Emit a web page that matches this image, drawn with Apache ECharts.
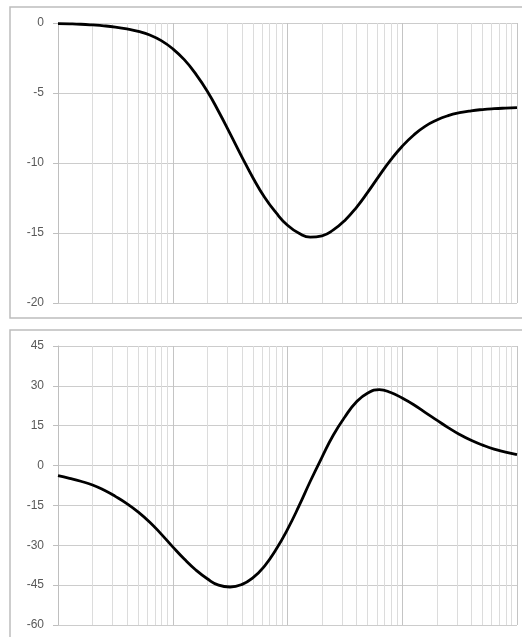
<!DOCTYPE html>
<html>
<head>
<meta charset="utf-8">
<script src="https://cdn.jsdelivr.net/npm/echarts@6/dist/echarts.min.js"></script>
<style>
html,body{margin:0;padding:0;background:#fff;}
#chart{width:522px;height:637px;}
</style>
</head>
<body>
<div id="chart"></div>
<script>
// Frequency grid (log axis, 4 decades)
var xMin = 1, xMax = 10000;
var decades = [1, 10, 100, 1000];
var minorMultipliers = [2, 3, 4, 5, 6, 7, 8, 9];

// Sample frequencies (tenth-decade steps)
var freq = [1, 1.26, 1.58, 2, 2.51, 3.16, 3.98, 5.01, 6.31, 7.94,
            10, 12.6, 15.8, 20, 25.1, 31.6, 39.8, 50.1, 63.1, 79.4,
            100, 126, 158, 200, 251, 316, 398, 501, 631, 794,
            1000, 1260, 1580, 2000, 2510, 3160, 3980, 5010, 6310, 7940,
            10000];

// Magnitude panel (dB)
var magValues = [-0.04, -0.06, -0.09, -0.14, -0.2, -0.29, -0.42, -0.6, -0.86, -1.26,
                 -1.84, -2.62, -3.62, -4.87, -6.32, -7.9, -9.52, -11.07, -12.45, -13.55,
                 -14.45, -15.02, -15.3, -15.2, -14.78, -14.1, -13.18, -12.08, -10.9, -9.78,
                 -8.8, -8.0, -7.38, -6.93, -6.62, -6.41, -6.27, -6.18, -6.12, -6.08,
                 -6.05];
var magTicks = {min: -20, max: 0, interval: 5};

// Phase panel (degrees)
var phValues = [-3.8, -4.8, -5.9, -7.3, -9.2, -11.6, -14.3, -17.5, -21.3, -25.8,
                -30.6, -35.2, -39.2, -42.6, -45.0, -45.7, -44.8, -42.2, -37.8, -31.6,
                -24.0, -15.2, -5.9, 3.2, 11.5, 18.3, 23.9, 27.3, 28.6, 27.5,
                25.4, 22.9, 20.0, 17.1, 14.3, 11.7, 9.5, 7.7, 6.2, 5.1,
                4.1];
var phTicks = {min: -60, max: 45, interval: 15};

function pairs(xs, ys) { return xs.map(function (x, i) { return [x, ys[i]]; }); }

var minorLines = [];
decades.forEach(function (d) {
  minorMultipliers.forEach(function (m) { minorLines.push({xAxis: d * m}); });
});

var chart = echarts.init(document.getElementById('chart'), null, {renderer: 'canvas'});

var labelStyle = {color: '#595959', fontFamily: 'Liberation Sans, Arial, sans-serif', fontSize: 12, margin: 14};

function xAxisCfg(gi) {
  return {
    type: 'log', logBase: 10, min: xMin, max: xMax, gridIndex: gi,
    axisLabel: {show: false}, axisTick: {show: false}, axisLine: {show: false},
    splitLine: {show: true, lineStyle: {color: '#c4c4c4', width: 1}},
    minorTick: {show: false}, minorSplitLine: {show: false}
  };
}
function yAxisCfg(gi, t) {
  return {
    type: 'value', gridIndex: gi, min: t.min, max: t.max, interval: t.interval,
    axisLine: {show: true, lineStyle: {color: '#bfbfbf', width: 1}},
    axisTick: {show: true, length: 5, inside: false, lineStyle: {color: '#bfbfbf'}},
    axisLabel: labelStyle,
    splitLine: {show: true, lineStyle: {color: '#cccccc', width: 1}}
  };
}
function gridSeries(i, data) {
  return {
    type: 'line', xAxisIndex: i, yAxisIndex: i, data: data, z: 1, silent: true,
    showSymbol: false, lineStyle: {opacity: 0, width: 0},
    markLine: {
      silent: true, symbol: 'none', animation: false,
      label: {show: false},
      lineStyle: {color: '#dcdcdc', type: 'solid', width: 1},
      data: minorLines
    }
  };
}
function curveSeries(i, data) {
  return {
    type: 'line', xAxisIndex: i, yAxisIndex: i, data: data, z: 5,
    smooth: true, showSymbol: false, symbol: 'none',
    lineStyle: {color: '#000000', width: 2.8}
  };
}

var magData = pairs(freq, magValues);
var phData = pairs(freq, phValues);

chart.setOption({
  animation: false,
  backgroundColor: '#ffffff',
  graphic: [
    {type: 'rect', shape: {x: 10, y: 7, width: 540, height: 311}, style: {fill: 'none', stroke: '#bdbdbd', lineWidth: 1.5}, silent: true},
    {type: 'rect', shape: {x: 10, y: 330, width: 540, height: 340}, style: {fill: 'none', stroke: '#bdbdbd', lineWidth: 1.5}, silent: true}
  ],
  grid: [
    {left: 58, right: 5, top: 23, height: 280, containLabel: false},
    {left: 58, right: 5, top: 346, height: 279, containLabel: false}
  ],
  xAxis: [xAxisCfg(0), xAxisCfg(1)],
  yAxis: [yAxisCfg(0, magTicks), yAxisCfg(1, phTicks)],
  series: [
    gridSeries(0, magData), curveSeries(0, magData),
    gridSeries(1, phData), curveSeries(1, phData)
  ]
});
</script>
</body>
</html>
